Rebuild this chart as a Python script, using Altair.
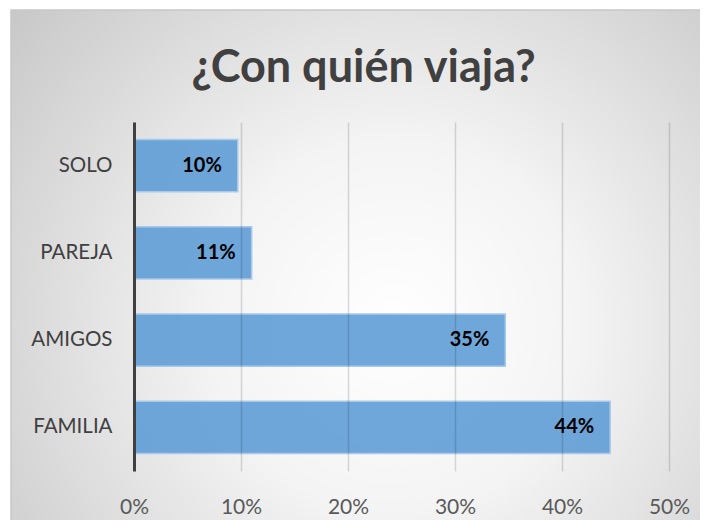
import altair as alt
import pandas as pd

categories = ["SOLO", "PAREJA", "AMIGOS", "FAMILIA"]
values = [0.097, 0.110, 0.347, 0.445]
labels = ["10%", "11%", "35%", "44%"]
tick_values = [0, 0.1, 0.2, 0.3, 0.4, 0.5]

df = pd.DataFrame({"cat": categories, "val": values, "lab": labels})
bgdf = pd.DataFrame({"k": [0]})

W, H = 535, 349
PL, PT, PR, PB = 126, 114, 31, 49

FONT = "Lato"

gradient = alt.Gradient(
    gradient="radial",
    stops=[
        alt.GradientStop(offset=0, color="#ffffff"),
        alt.GradientStop(offset=0.35, color="#f4f4f4"),
        alt.GradientStop(offset=1, color="#c4c4c4"),
    ],
    x1=0.55, y1=0.58, r1=0,
    x2=0.55, y2=0.58, r2=0.75,
)

bg = alt.Chart(bgdf).mark_rect(fill=gradient, stroke="#c8c8c8", strokeWidth=1.5).encode(
    x=alt.value(-123), x2=alt.value(W + PR + 10),
    y=alt.value(-112), y2=alt.value(H + PB + 10),
)

y_enc = alt.Y(
    "cat:N", sort=categories,
    scale=alt.Scale(paddingInner=0.4, paddingOuter=0.2),
    axis=alt.Axis(
        title=None, ticks=False, grid=False,
        domainColor="#404040", domainWidth=3,
        labelFont=FONT, labelFontSize=20.5, labelColor="#404040",
        labelPadding=22, zindex=2,
    ),
)
x_enc = alt.X(
    "val:Q",
    scale=alt.Scale(domain=[0, 0.5], nice=False),
    axis=alt.Axis(
        title=None, format=".0%", values=tick_values, ticks=False, domain=False,
        grid=True, gridColor="#000000", gridOpacity=0.14, gridWidth=1.5,
        labelFont=FONT, labelFontSize=21, labelColor="#595959",
        labelPadding=25, labelFlush=False, zindex=1,
    ),
)

bars = alt.Chart(df).mark_bar(
    color="#5b9bd5", fillOpacity=0.88, stroke="#a9c9ea", strokeWidth=1.5
).encode(y=y_enc, x=x_enc)

text = alt.Chart(df).mark_text(
    align="right", baseline="middle", dx=-16,
    font=FONT, fontWeight="bold", fontSize=20, color="#000000"
).encode(y=alt.Y("cat:N", sort=categories), x="val:Q", text="lab:N")

chart = alt.layer(bg, bars, text).properties(
    width=W, height=H,
    autosize=alt.AutoSizeParams(type="none"),
    padding={"left": PL, "top": PT, "right": PR, "bottom": PB},
    background="#ffffff",
    title=alt.TitleParams(
        "¿Con quién viaja?", font=FONT, fontSize=45, fontWeight="bold",
        color="#404040", anchor="middle", frame="group", dx=-38, offset=-82,
    ),
).configure_view(stroke=None)

chart.save("out.html", embed_options={"renderer": "svg", "actions": False})
